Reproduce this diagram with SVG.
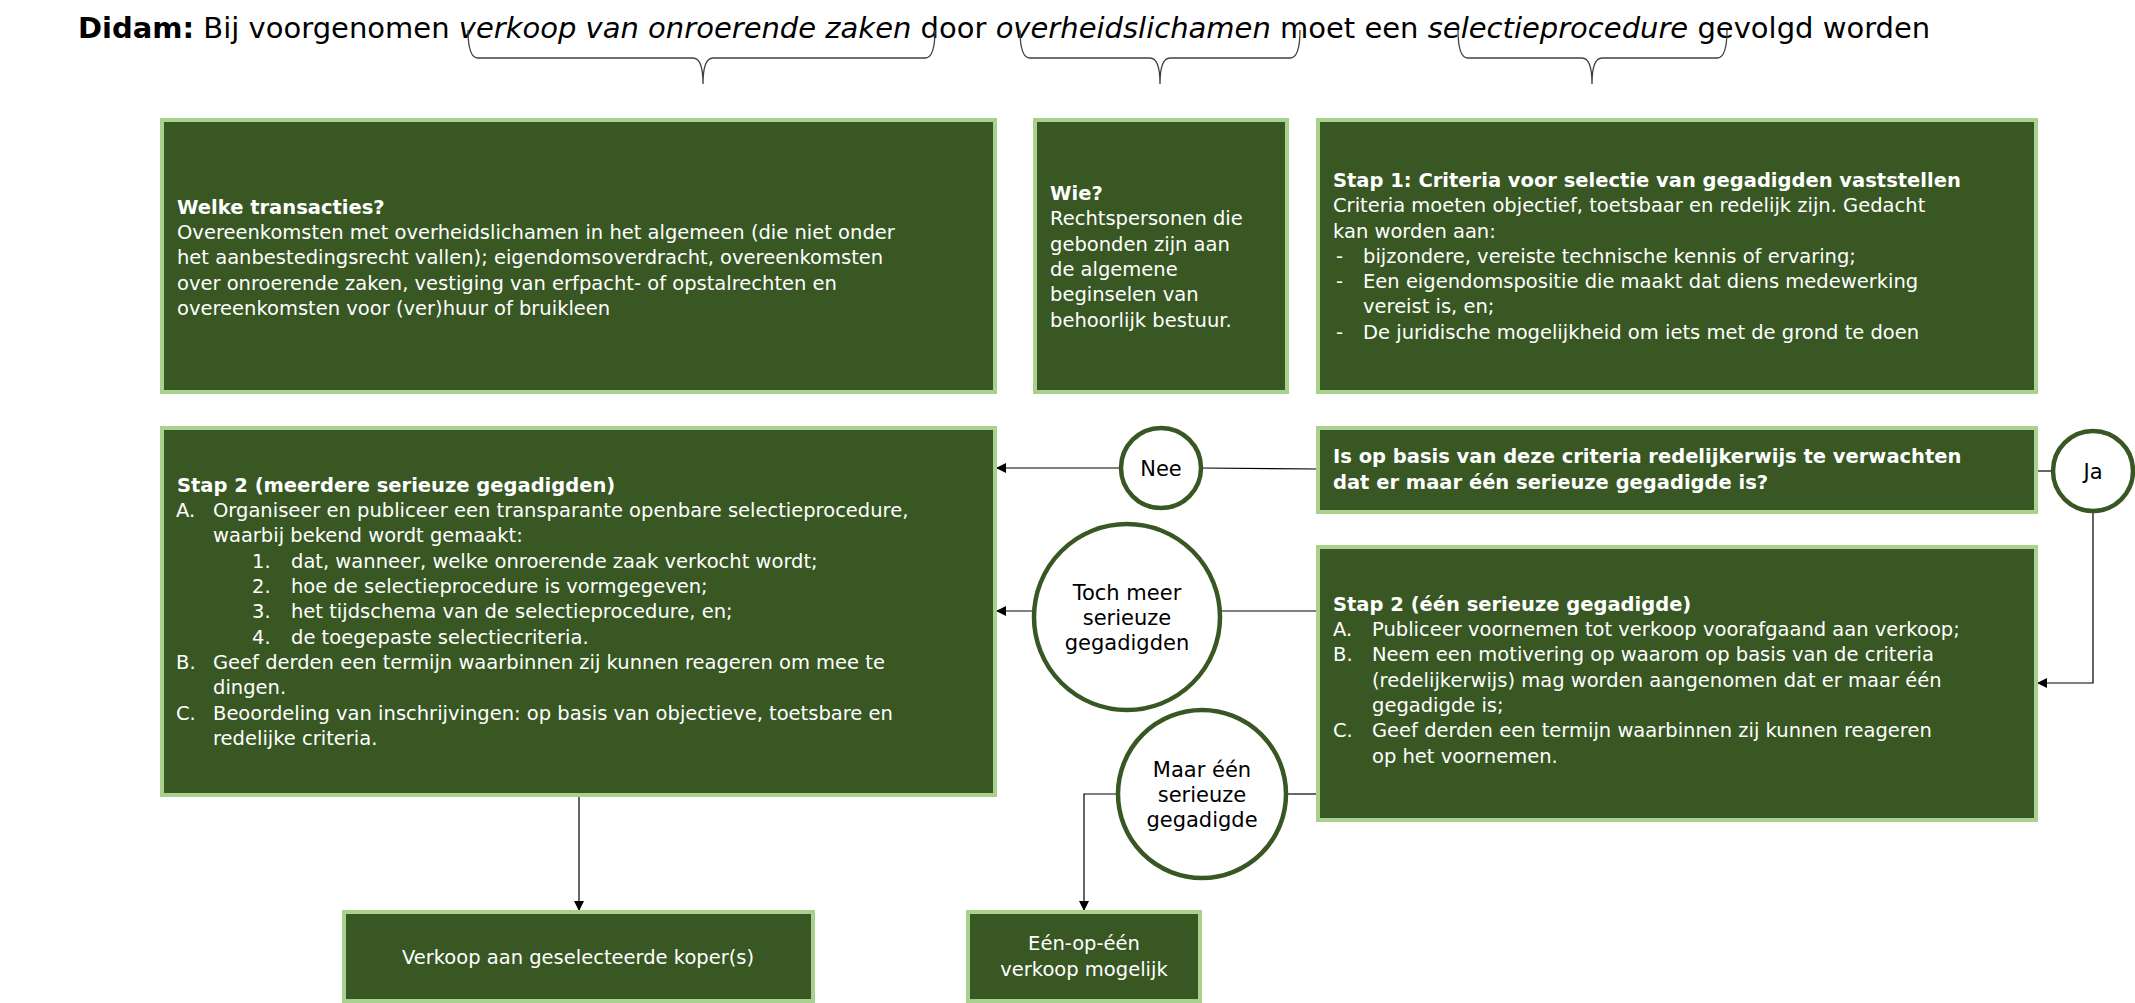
<svg xmlns="http://www.w3.org/2000/svg" width="2135" height="1003" viewBox="0 0 2135 1003">
<style>
text{font-family:"DejaVu Sans",Verdana,sans-serif}
.box{fill:#385723;stroke:#a9d18e;stroke-width:4}
.t{fill:#fff;font-size:19.5px}
.b{font-weight:bold}
.c{fill:#fff;stroke:#385723;stroke-width:4.5}
.ct{fill:#000;font-size:21px;text-anchor:middle}
.ln{fill:none;stroke:#000;stroke-width:1.2}
.br{fill:none;stroke:#404040;stroke-width:1.3}
</style>
<defs><marker id="a" markerWidth="10" markerHeight="10" refX="9" refY="5" orient="auto" markerUnits="userSpaceOnUse"><path d="M0,0 L10,5 L0,10 Z" fill="#000"/></marker></defs>
<text x="78" y="38" font-size="29" fill="#000"><tspan font-weight="bold">Didam:</tspan> Bij voorgenomen <tspan font-style="italic">verkoop van onroerende zaken</tspan> door <tspan font-style="italic">overheidslichamen</tspan> moet een <tspan font-style="italic">selectieprocedure</tspan> gevolgd worden</text>
<g id="braces">
<path class="br" d="M468,30 Q468,58 478,58 L693,58 Q703,58 703,84 Q703,58 713,58 L925,58 Q935,58 935,30"/>
<path class="br" d="M1020,30 Q1020,58 1030,58 L1150,58 Q1160,58 1160,84 Q1160,58 1170,58 L1290,58 Q1300,58 1300,30"/>
<path class="br" d="M1458,30 Q1458,58 1468,58 L1582,58 Q1592,58 1592,84 Q1592,58 1602,58 L1717,58 Q1727,58 1727,30"/>
</g>
<g id="connectors">
<path class="ln" d="M1318,469 L1201,468"/>
<path class="ln" d="M1121,468 L997,468" marker-end="url(#a)"/>
<path class="ln" d="M2036,471 L2053,471"/>
<path class="ln" d="M2093,511 L2093,683 L2038,683" marker-end="url(#a)"/>
<path class="ln" d="M1318,611 L1220,611"/>
<path class="ln" d="M1034,611 L997,611" marker-end="url(#a)"/>
<path class="ln" d="M1318,794 L1286,794"/>
<path class="ln" d="M1118,794 L1084,794 L1084,910" marker-end="url(#a)"/>
<path class="ln" d="M579,795 L579,910" marker-end="url(#a)"/>
</g>
<g id="welke"><rect class="box" x="162" y="120" width="833" height="272"/>
<text class="t"><tspan x="177" y="214" class="b">Welke transacties?</tspan><tspan x="177" y="239">Overeenkomsten met overheidslichamen in het algemeen (die niet onder</tspan><tspan x="177" y="264">het aanbestedingsrecht vallen); eigendomsoverdracht, overeenkomsten</tspan><tspan x="177" y="290">over onroerende zaken, vestiging van erfpacht- of opstalrechten en</tspan><tspan x="177" y="315">overeenkomsten voor (ver)huur of bruikleen</tspan></text></g>
<g id="wie"><rect class="box" x="1035" y="120" width="252" height="272"/>
<text class="t"><tspan x="1050" y="200" class="b">Wie?</tspan><tspan x="1050" y="225">Rechtspersonen die</tspan><tspan x="1050" y="251">gebonden zijn aan</tspan><tspan x="1050" y="276">de algemene</tspan><tspan x="1050" y="301">beginselen van</tspan><tspan x="1050" y="327">behoorlijk bestuur.</tspan></text></g>
<g id="stap1"><rect class="box" x="1318" y="120" width="718" height="272"/>
<text class="t"><tspan x="1333" y="187" class="b">Stap 1: Criteria voor selectie van gegadigden vaststellen</tspan><tspan x="1333" y="212">Criteria moeten objectief, toetsbaar en redelijk zijn. Gedacht</tspan><tspan x="1333" y="238">kan worden aan:</tspan><tspan x="1336" y="263">-</tspan><tspan x="1363" y="263">bijzondere, vereiste technische kennis of ervaring;</tspan><tspan x="1336" y="288">-</tspan><tspan x="1363" y="288">Een eigendomspositie die maakt dat diens medewerking</tspan><tspan x="1363" y="313">vereist is, en;</tspan><tspan x="1336" y="339">-</tspan><tspan x="1363" y="339">De juridische mogelijkheid om iets met de grond te doen</tspan></text></g>
<g id="stap2m"><rect class="box" x="162" y="428" width="833" height="367"/>
<text class="t"><tspan x="177" y="492" class="b">Stap 2 (meerdere serieuze gegadigden)</tspan><tspan x="176" y="517">A.</tspan><tspan x="213" y="517">Organiseer en publiceer een transparante openbare selectieprocedure,</tspan><tspan x="213" y="542">waarbij bekend wordt gemaakt:</tspan><tspan x="252" y="568">1.</tspan><tspan x="291" y="568">dat, wanneer, welke onroerende zaak verkocht wordt;</tspan><tspan x="252" y="593">2.</tspan><tspan x="291" y="593">hoe de selectieprocedure is vormgegeven;</tspan><tspan x="252" y="618">3.</tspan><tspan x="291" y="618">het tijdschema van de selectieprocedure, en;</tspan><tspan x="252" y="644">4.</tspan><tspan x="291" y="644">de toegepaste selectiecriteria.</tspan><tspan x="176" y="669">B.</tspan><tspan x="213" y="669">Geef derden een termijn waarbinnen zij kunnen reageren om mee te</tspan><tspan x="213" y="694">dingen.</tspan><tspan x="176" y="720">C.</tspan><tspan x="213" y="720">Beoordeling van inschrijvingen: op basis van objectieve, toetsbare en</tspan><tspan x="213" y="745">redelijke criteria.</tspan></text></g>
<g id="vraag"><rect class="box" x="1318" y="428" width="718" height="84"/>
<text class="t b"><tspan x="1333" y="463">Is op basis van deze criteria redelijkerwijs te verwachten</tspan><tspan x="1333" y="489">dat er maar één serieuze gegadigde is?</tspan></text></g>
<g id="stap2e"><rect class="box" x="1318" y="547" width="718" height="273"/>
<text class="t"><tspan x="1333" y="611" class="b">Stap 2 (één serieuze gegadigde)</tspan><tspan x="1333" y="636">A.</tspan><tspan x="1372" y="636">Publiceer voornemen tot verkoop voorafgaand aan verkoop;</tspan><tspan x="1333" y="661">B.</tspan><tspan x="1372" y="661">Neem een motivering op waarom op basis van de criteria</tspan><tspan x="1372" y="687">(redelijkerwijs) mag worden aangenomen dat er maar één</tspan><tspan x="1372" y="712">gegadigde is;</tspan><tspan x="1333" y="737">C.</tspan><tspan x="1372" y="737">Geef derden een termijn waarbinnen zij kunnen reageren</tspan><tspan x="1372" y="763">op het voornemen.</tspan></text></g>
<g id="verkoop"><rect class="box" x="344" y="912" width="469" height="89"/>
<text class="t" x="578" y="964" text-anchor="middle">Verkoop aan geselecteerde koper(s)</text></g>
<g id="eenop"><rect class="box" x="968" y="912" width="232" height="89"/>
<text class="t" text-anchor="middle"><tspan x="1084" y="950">Eén-op-één</tspan><tspan x="1084" y="976">verkoop mogelijk</tspan></text></g>
<g id="nee"><circle class="c" cx="1161" cy="468" r="40"/><text class="ct" x="1161" y="476">Nee</text></g>
<g id="ja"><circle class="c" cx="2093" cy="471" r="40"/><text class="ct" x="2093" y="479">Ja</text></g>
<g id="toch"><circle class="c" cx="1127" cy="617" r="93"/><text class="ct"><tspan x="1127" y="600">Toch meer</tspan><tspan x="1127" y="625">serieuze</tspan><tspan x="1127" y="650">gegadigden</tspan></text></g>
<g id="maar"><circle class="c" cx="1202" cy="794" r="84"/><text class="ct"><tspan x="1202" y="777">Maar één</tspan><tspan x="1202" y="802">serieuze</tspan><tspan x="1202" y="827">gegadigde</tspan></text></g>
</svg>
